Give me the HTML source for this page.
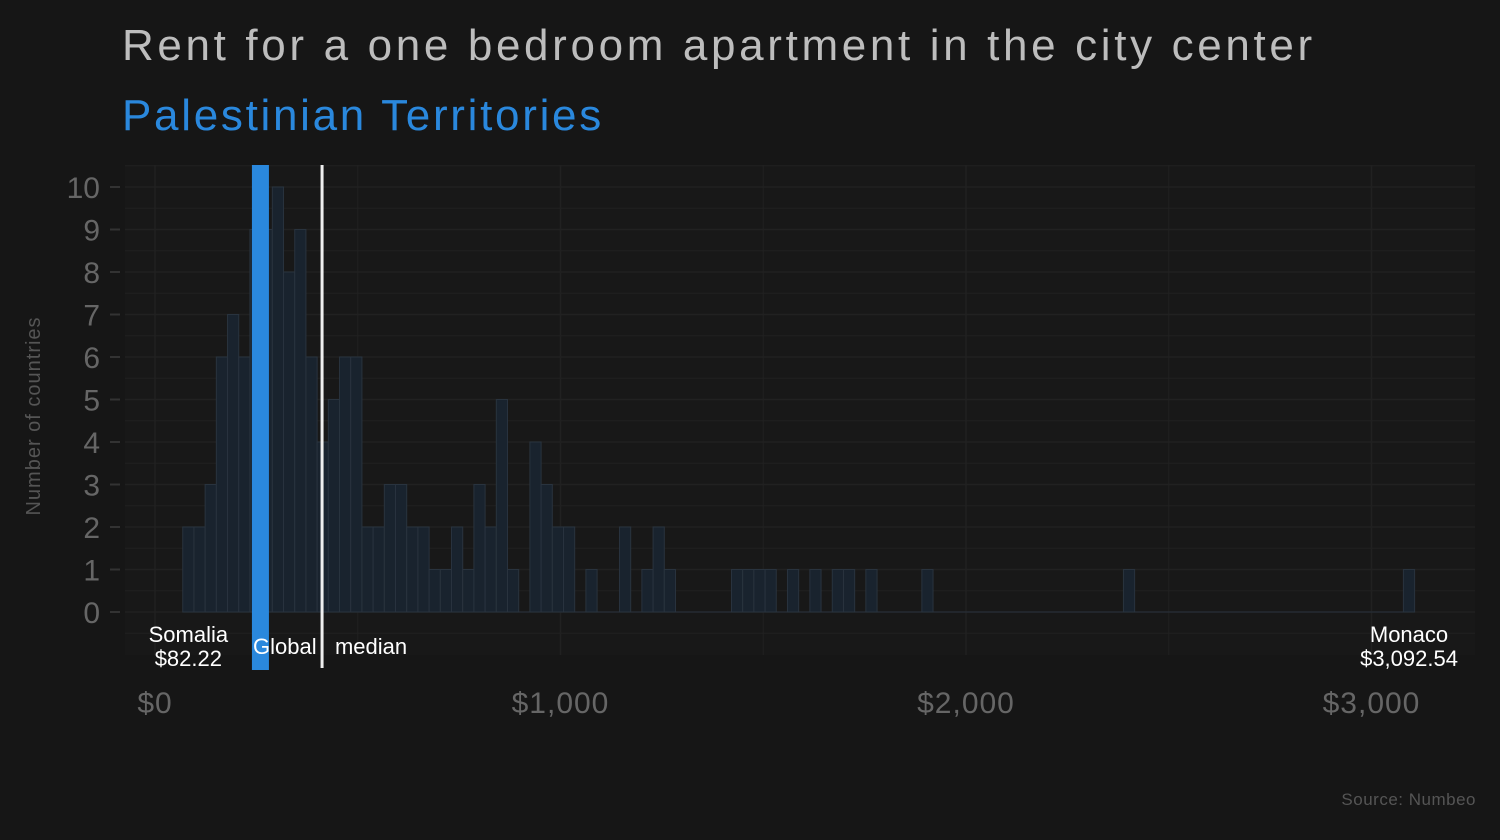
<!DOCTYPE html>
<html><head><meta charset="utf-8"><style>
html,body{margin:0;padding:0;background:#161616;width:1500px;height:840px;overflow:hidden}
svg{display:block;font-family:"Liberation Sans",sans-serif}
</style></head><body>
<svg id="chart" width="1500" height="840" viewBox="0 0 1500 840">
<text x="122" y="60" font-size="44" fill="#bdbdbd" letter-spacing="3.65">Rent for a one bedroom apartment in the city center</text>
<text x="122" y="130" font-size="44" fill="#2a88dd" letter-spacing="2.7">Palestinian Territories</text>
<text transform="translate(40,416) rotate(-90)" text-anchor="middle" font-size="20" fill="#555" letter-spacing="1">Number of countries</text>
<text x="1476" y="805" text-anchor="end" font-size="17" fill="#555" letter-spacing="0.5">Source: Numbeo</text>
<g id="grid"></g><g id="bars"></g><g id="axes"></g><g id="annot"></g>
</svg>
<script>
const binMin = 82.22;
const binWidth = 27.617;
const counts = [2,2,3,6,7,6,9,9,10,8,9,6,4,5,6,6,2,2,3,3,2,2,1,1,2,1,3,2,5,1,0,4,3,2,2,0,1,0,0,2,0,1,2,1,0,0,0,0,0,1,1,1,1,0,1,0,1,0,1,1,0,1,0,0,0,0,1,0,0,0,0,0,0,0,0,0,0,0,0,0,0,0,0,0,1,0,0,0,0,0,0,0,0,0,0,0,0,0,0,0,0,0,0,0,0,0,0,0,0,1];
const xTicks = [0,1000,2000,3000];
const xTickLabels = ["$0","$1,000","$2,000","$3,000"];
const yTicks = [0,1,2,3,4,5,6,7,8,9,10];
const highlightValue = 260;
const medianValue = 412;
const minCountry = ["Somalia","$82.22",82.22];
const maxCountry = ["Monaco","$3,092.54",3092.54];

const NS="http://www.w3.org/2000/svg";
const x=v=>155+v*0.4055;
const y=v=>612-v*42.5;
function mk(parent,tag,attrs){const e=document.createElementNS(NS,tag);for(const k in attrs)e.setAttribute(k,attrs[k]);document.getElementById(parent).appendChild(e);return e;}

const panel=mk('grid','rect',{x:125,y:165,width:1350,height:490,fill:'#181818'});


for(let v=0;v<=3000;v+=500){const l=mk('grid','line',{x1:x(v),x2:x(v),y1:165,y2:655,stroke:'#212121','stroke-width':v%1000?1:1.5});

}
for(let v=-0.5;v<=10.5;v+=0.5){const l=mk('grid','line',{x1:125,x2:1475,y1:y(v),y2:y(v),stroke:'#212121','stroke-width':Number.isInteger(v)?1.5:1});

}
const base=mk('grid','line',{x1:x(binMin-binWidth/2),x2:x(maxCountry[2]+binWidth/2),y1:y(0),y2:y(0),stroke:'#28313b','stroke-width':1});



counts.forEach((c,i)=>{if(!c)return;const c0=binMin+(i-0.5)*binWidth;const r=mk('bars','rect',{x:x(c0),y:y(c),width:x(c0+binWidth)-x(c0),height:y(0)-y(c),fill:'#19232e',stroke:'#29333e','stroke-width':1});

});

yTicks.forEach(t=>{const tl=mk('axes','line',{x1:110,x2:120,y1:y(t),y2:y(t),stroke:'#333','stroke-width':2});


const tx=mk('axes','text',{x:100,y:y(t)+11,'text-anchor':'end','font-size':30,fill:'#666'});tx.textContent=t;

});
xTicks.forEach((t,i)=>{const tx=mk('axes','text',{x:x(t),y:713,'text-anchor':'middle','font-size':30,fill:'#666','letter-spacing':1});tx.textContent=xTickLabels[i];

});

const hb=mk('annot','rect',{x:x(highlightValue)-8.5,y:165,width:17,height:505,fill:'#2a88dd'});


const ml=mk('annot','line',{x1:x(medianValue),x2:x(medianValue),y1:165,y2:668,stroke:'#eeeeee','stroke-width':3});


const mt=mk('annot','text',{x:x(medianValue)+8,y:654,'text-anchor':'middle','font-size':22,fill:'#ffffff'});mt.textContent='Global   median';


mt.setAttribute('xml:space','preserve');
mt.style.whiteSpace='pre';
[minCountry,maxCountry].forEach((m,i)=>{const g=mk('annot','text',{'text-anchor':'middle','font-size':22,fill:'#ffffff'});


const a=document.createElementNS(NS,'tspan');a.setAttribute('x',x(m[2]));a.setAttribute('y',642);a.textContent=m[0];g.appendChild(a);
const b=document.createElementNS(NS,'tspan');b.setAttribute('x',x(m[2]));b.setAttribute('y',666);b.textContent=m[1];g.appendChild(b);});
</script>
</body></html>
